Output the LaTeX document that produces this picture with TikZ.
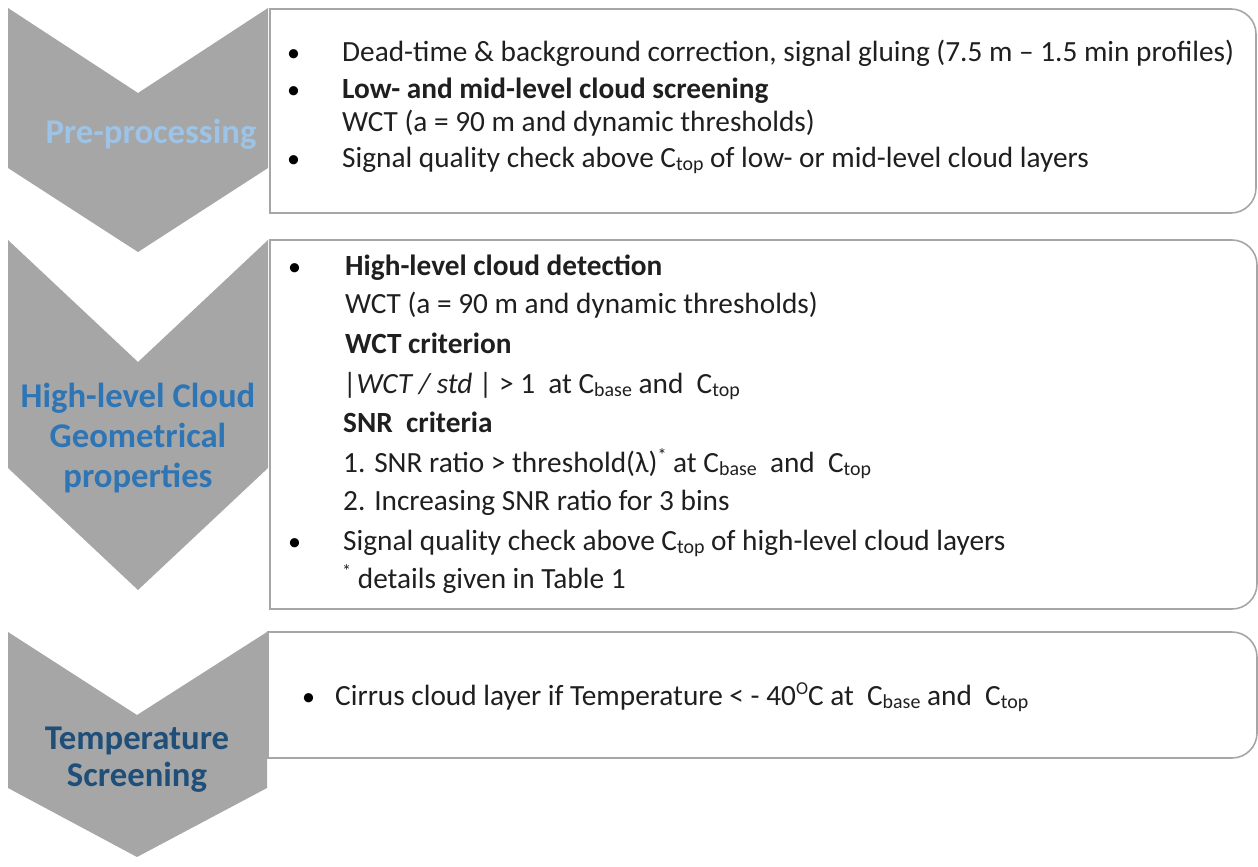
\documentclass[tikz,border=0pt]{standalone}
\usepackage{fontspec}
\setmainfont{Carlito}
\definecolor{chev}{HTML}{A6A6A6}
\definecolor{boxline}{HTML}{A6A6A6}
\definecolor{lblue}{HTML}{9DC3E6}
\definecolor{mblue}{HTML}{2E75B6}
\definecolor{dblue}{HTML}{1F4E79}
\newcommand\lo[1]{\raisebox{-0.28ex}{\scalebox{0.68}{#1}}}
\newcommand\hi[1]{\raisebox{0.75ex}{\scalebox{0.62}{#1}}}
\tikzset{
  chevfill/.style={fill=chev},
  boxline/.style={draw=boxline, line width=1.6pt},
  lbl/.style={font=\fontsize{34.7}{40}\selectfont\bfseries, align=center, inner sep=0pt},
  txt/.style={anchor=base west, inner sep=0pt, font=\fontsize{29.3}{34}\selectfont, text=black!88},
  bul/.style={anchor=base west, inner sep=0pt, font=\fontsize{26}{31}\selectfont}
}
\begin{document}
\begin{tikzpicture}[x=1pt,y=-1pt]
\useasboundingbox (0,0) rectangle (1258,867);
% boxes
\draw[boxline, rounded corners=25pt] (270,9) -- (1256,9) -- (1256,213) -- (270,213);
\draw[boxline] (270,8.2) -- (270,213.8);
\draw[boxline, rounded corners=25pt] (270,240) -- (1257,240) -- (1257,609) -- (270,609);
\draw[boxline] (270,239.2) -- (270,609.8);
\draw[boxline, rounded corners=25pt] (268,632) -- (1257,632) -- (1257,758) -- (268,758);
\draw[boxline] (268,631.2) -- (268,758.8);
% chevrons
\fill[chevfill] (8,8) -- (138,93) -- (268,8) -- (268,168) -- (138,252) -- (8,168) -- cycle;
\fill[chevfill] (8,240) -- (138,362) -- (268,240) -- (268,468) -- (138,590) -- (8,468) -- cycle;
\fill[chevfill] (8,632) -- (137,715) -- (267,632) -- (267,788) -- (137,857) -- (8,788) -- cycle;
% chevron labels
\node[lbl, text=lblue, anchor=base] (l1) at (151,143) {Pre-processing};
\node[lbl, text=mblue, anchor=base] (l2) at (138,487) {High-level Cloud\\Geometrical\\properties};
\node[lbl, text=dblue, anchor=base, font=\fontsize{34.7}{37}\selectfont\bfseries] (l3) at (137,786) {Temperature\\Screening};
% box 1
\node[bul] (b1a) at (287,62) {•};
\node[txt] (t1a) at (342,62) {Dead-time \& background correction, signal gluing (7.5 m – 1.5 min profiles)};
\node[bul] (b1b) at (287,98) {•};
\node[txt] (t1b) at (342,98) {\bfseries Low- and mid-level cloud screening};
\node[txt] (t1c) at (342,131) {WCT (a = 90 m and dynamic thresholds)};
\node[bul] (b1d) at (287,167) {•};
\node[txt] (t1d) at (342,167) {Signal quality check above C\lo{top} of low- or mid-level cloud layers};
% box 2
\node[bul] (b2a) at (288,275) {•};
\node[txt] (t2a) at (345,275) {\bfseries High-level cloud detection};
\node[txt] (t2b) at (345,313) {WCT (a = 90 m and dynamic thresholds)};
\node[txt] (t2c) at (345,353) {\bfseries WCT criterion};
\node[txt] (t2d) at (343,393) {|\textit{WCT / std} | > 1~ at C\lo{base} and~ C\lo{top}};
\node[txt] (t2e) at (343,432) {\bfseries SNR~ criteria};
\node[txt] (t2f) at (343,472) {1. SNR ratio > threshold(λ)\hi{*} at C\lo{base}~ and~ C\lo{top}};
\node[txt] (t2g) at (343,510) {2. Increasing SNR ratio for 3 bins};
\node[bul] (b2h) at (288,550) {•};
\node[txt] (t2h) at (343,550) {Signal quality check above C\lo{top} of high-level cloud layers};
\node[txt] (t2i) at (342,588) {\hi{*} details given in Table 1};
% box 3
\node[bul] (b3a) at (302,705) {•};
\node[txt] (t3a) at (335,705) {Cirrus cloud layer if Temperature < - 40\hi{O}C at~ C\lo{base} and~ C\lo{top}};
\end{tikzpicture}
\end{document}
